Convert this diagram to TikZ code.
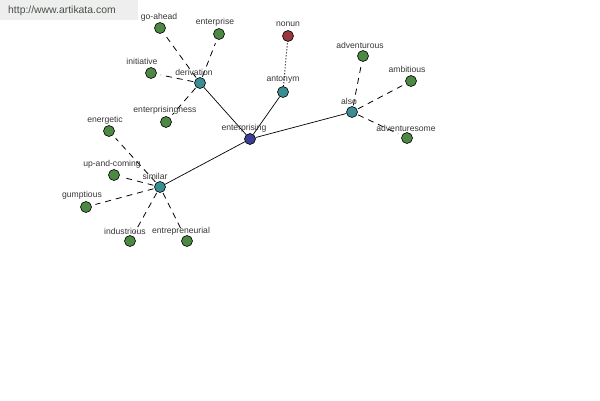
\documentclass[tikz,border=0pt]{standalone}
\usepackage{fontspec}
\setmainfont{Liberation Sans}
\definecolor{ngreen}{RGB}{76,137,66}
\definecolor{nteal}{RGB}{58,142,146}
\definecolor{nblue}{RGB}{60,62,148}
\definecolor{nred}{RGB}{152,55,60}
\definecolor{labgray}{RGB}{55,55,55}
\definecolor{wmbox}{RGB}{238,238,238}
\definecolor{wmtext}{RGB}{70,80,70}
\tikzset{
  dot/.style={circle,draw=black,line width=0.6pt,minimum size=11pt,inner sep=0pt},
  gn/.style={dot,fill=ngreen},
  tn/.style={dot,fill=nteal},
  bn/.style={dot,fill=nblue},
  rn/.style={dot,fill=nred},
  lab/.style={font=\fontsize{8.6}{9}\selectfont,text=labgray,inner sep=0pt},
  solidedge/.style={line width=0.7pt,draw=black},
  dashedge/.style={line width=0.8pt,draw=black,dash pattern=on 6pt off 5pt,shorten <=1pt,shorten >=4pt},
  dotedge/.style={line width=1pt,draw=black,dash pattern=on 1pt off 2pt},
}
\begin{document}
\begin{tikzpicture}[x=1pt,y=-1pt]
\useasboundingbox (0,0) rectangle (600,400);
\fill[white] (0,0) rectangle (600,400);
\fill[wmbox] (0,0) rectangle (138,20);
\node[anchor=west,inner sep=0pt,text=wmtext,font=\fontsize{10.4}{12}\selectfont] (wm) at (8,11) {http://www.artikata.com};

% nodes
\node[bn] (enterprising) at (250,139) {};
\node[tn] (derivation) at (200,83) {};
\node[tn] (antonym) at (283,92) {};
\node[tn] (also) at (352,112) {};
\node[tn] (similar) at (160,187) {};
\node[rn] (nonun) at (288,36) {};
\node[gn] (goahead) at (160,28) {};
\node[gn] (enterprise) at (219,34) {};
\node[gn] (initiative) at (151,73) {};
\node[gn] (enterprisingness) at (166,122) {};
\node[gn] (adventurous) at (363,56) {};
\node[gn] (ambitious) at (411,81) {};
\node[gn] (adventuresome) at (407,138) {};
\node[gn] (energetic) at (109,131) {};
\node[gn] (upandcoming) at (114,175) {};
\node[gn] (gumptious) at (86,207) {};
\node[gn] (industrious) at (130,241) {};
\node[gn] (entrepreneurial) at (187,241) {};

% edges
\draw[solidedge] (enterprising) -- (derivation);
\draw[solidedge] (enterprising) -- (antonym);
\draw[solidedge] (enterprising) -- (also);
\draw[solidedge] (enterprising) -- (similar);
\draw[dotedge] (antonym) -- (nonun);
\draw[dashedge] (derivation) -- (goahead);
\draw[dashedge] (derivation) -- (enterprise);
\draw[dashedge] (derivation) -- (initiative);
\draw[dashedge] (derivation) -- (enterprisingness);
\draw[dashedge] (also) -- (adventurous);
\draw[dashedge] (also) -- (ambitious);
\draw[dashedge] (also) -- (adventuresome);
\draw[dashedge] (similar) -- (energetic);
\draw[dashedge] (similar) -- (upandcoming);
\draw[dashedge] (similar) -- (gumptious);
\draw[dashedge] (similar) -- (industrious);
\draw[dashedge] (similar) -- (entrepreneurial);

% labels
\node[lab] (l-enterprising) at (244,128) {enterprising};
\node[lab] (l-derivation) at (194,72) {derivation};
\node[lab] (l-antonym) at (283,80) {antonym};
\node[lab] (l-also) at (349,101) {also};
\node[lab] (l-similar) at (155,176) {similar};
\node[lab] (l-nonun) at (288,24) {nonun};
\node[lab] (l-goahead) at (159,17) {go-ahead};
\node[lab] (l-enterprise) at (215,22) {enterprise};
\node[lab] (l-initiative) at (142,61) {initiative};
\node[lab] (l-enterprisingness) at (165,110) {enterprisingness};
\node[lab] (l-adventurous) at (360,45) {adventurous};
\node[lab] (l-ambitious) at (407,69) {ambitious};
\node[lab] (l-adventuresome) at (406,128) {adventuresome};
\node[lab] (l-energetic) at (105,120) {energetic};
\node[lab] (l-upandcoming) at (112,164) {up-and-coming};
\node[lab] (l-gumptious) at (82,195) {gumptious};
\node[lab] (l-industrious) at (125,231) {industrious};
\node[lab] (l-entrepreneurial) at (181,231) {entrepreneurial};
\end{tikzpicture}
\end{document}
